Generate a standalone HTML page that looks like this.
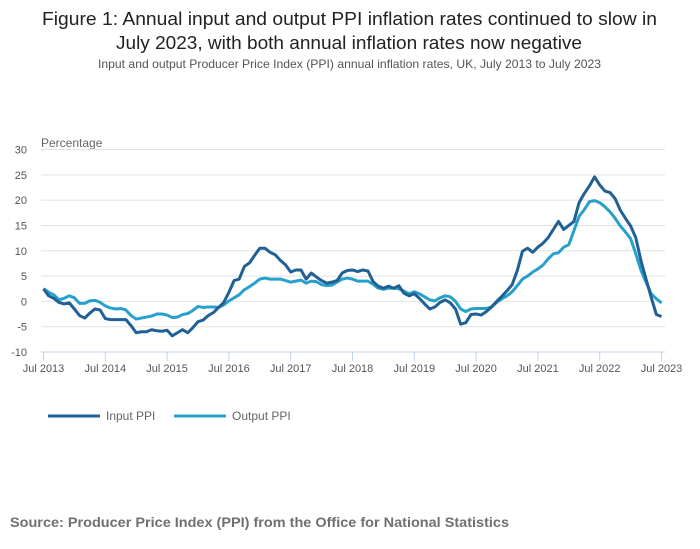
<!DOCTYPE html>
<html><head><meta charset="utf-8"><style>
html,body{margin:0;padding:0;background:#fff;}
svg{display:block;font-family:"Liberation Sans",sans-serif;}
</style></head><body>
<svg id="chart" width="700" height="549" viewBox="0 0 700 549" xmlns="http://www.w3.org/2000/svg">
<text x="349.5" y="25" text-anchor="middle" font-size="18" fill="#222" textLength="615" lengthAdjust="spacingAndGlyphs">Figure 1: Annual input and output PPI inflation rates continued to slow in</text>
<text x="349" y="49" text-anchor="middle" font-size="18" fill="#222" textLength="466" lengthAdjust="spacingAndGlyphs">July 2023, with both annual inflation rates now negative</text>
<text x="349.5" y="68" text-anchor="middle" font-size="12" fill="#555" textLength="503" lengthAdjust="spacingAndGlyphs">Input and output Producer Price Index (PPI) annual inflation rates, UK, July 2013 to July 2023</text>
<text x="41" y="147" font-size="12" fill="#666">Percentage</text>
<g id="grid"></g><g id="axes"></g><g id="series"></g>
<g>
<line x1="48" y1="416" x2="100" y2="416" stroke="#206095" stroke-width="3"/>
<text x="106" y="420" font-size="12" fill="#666">Input PPI</text>
<line x1="174" y1="416" x2="226" y2="416" stroke="#27a0cc" stroke-width="3"/>
<text x="232" y="420" font-size="12" fill="#666">Output PPI</text>
</g>
<text x="10" y="527" font-size="14" font-weight="bold" fill="#707070" textLength="499" lengthAdjust="spacingAndGlyphs">Source: Producer Price Index (PPI) from the Office for National Statistics</text>
</svg>
<script>
const inputPPI = [2.5,1.1,0.6,-0.2,-0.5,-0.3,-1.5,-2.8,-3.3,-2.3,-1.5,-1.7,
-3.4,-3.6,-3.6,-3.6,-3.6,-4.8,-6.2,-6.0,-6.0,-5.6,-5.8,-5.9,
-5.7,-6.8,-6.2,-5.6,-6.2,-5.2,-4.0,-3.7,-2.8,-2.2,-1.2,-0.2,
1.8,4.1,4.4,6.9,7.6,9.1,10.5,10.5,9.7,9.2,8.1,7.2,
5.8,6.2,6.2,4.4,5.6,4.8,4.1,3.6,3.8,4.1,5.6,6.1,
6.2,5.9,6.2,6.0,3.9,3.0,2.6,3.0,2.6,3.1,1.6,1.1,
1.5,0.6,-0.5,-1.5,-1.1,-0.2,0.3,-0.3,-1.5,-4.5,-4.2,-2.6,
-2.5,-2.7,-2.0,-1.1,0,1.0,2.1,3.3,6.1,9.9,10.5,9.7,
10.7,11.5,12.6,14.2,15.8,14.2,15.0,15.8,19.5,21.3,22.8,24.6,
23.0,21.8,21.5,20.3,18.0,16.4,14.9,12.6,8.1,4.4,0.8,-2.6,
-3.0];
const outputPPI = [2.5,1.8,1.3,0.3,0.6,1.1,0.7,-0.4,-0.4,0.1,0.2,-0.2,
-0.9,-1.3,-1.5,-1.4,-1.7,-2.8,-3.5,-3.3,-3.1,-2.9,-2.5,-2.5,
-2.7,-3.2,-3.1,-2.6,-2.4,-1.8,-1.0,-1.2,-1.1,-1.1,-1.2,-0.7,
0.1,0.7,1.3,2.3,2.9,3.6,4.4,4.6,4.4,4.4,4.4,4.1,
3.8,4.0,4.2,3.6,4.0,3.9,3.3,3.1,3.2,3.8,4.4,4.6,
4.4,4.0,4.0,4.0,3.4,2.6,2.4,2.6,2.6,2.5,2.0,1.5,
1.9,1.5,0.9,0.3,0.1,0.7,1.1,0.9,0,-1.5,-2.0,-1.5,
-1.4,-1.4,-1.4,-1.1,-0.2,0.5,1.1,1.9,3.1,4.4,5.0,5.8,
6.4,7.2,8.4,9.4,9.6,10.7,11.2,14.0,16.8,18.1,19.7,19.9,
19.5,18.7,17.7,16.4,14.9,13.7,12.4,9.4,6.2,3.8,1.5,0.5,
-0.3];
const yTicks = [30,25,20,15,10,5,0,-5,-10];
const xTickLabels = ["Jul 2013","Jul 2014","Jul 2015","Jul 2016","Jul 2017","Jul 2018","Jul 2019","Jul 2020","Jul 2021","Jul 2022","Jul 2023"];

const NS="http://www.w3.org/2000/svg";
const X0=43.5,X1=661.5,Y30=149.5,Ym10=352;
const n=inputPPI.length;
function xs(i){return X0+(X1-X0)*i/(n-1);}
function ys(v){return Ym10+(v+10)*(Y30-Ym10)/40;}
function mk(tag,attrs,parent){const e=document.createElementNS(NS,tag);for(const k in attrs)e.setAttribute(k,attrs[k]);parent.appendChild(e);return e;}
const grid=document.getElementById('grid'),axes=document.getElementById('axes'),ser=document.getElementById('series');
yTicks.forEach(v=>{
  if(v!==-10){const l=mk('line',{x1:41,x2:665,y1:ys(v),y2:ys(v),stroke:'#e2e2e2','stroke-width':1},grid);
  
  }
  const t=mk('text',{x:27,y:ys(v)+4,'text-anchor':'end','font-size':11,fill:'#555'},axes);
  t.textContent=v;
  
  
});
const ax=mk('line',{x1:41,x2:665,y1:Ym10,y2:Ym10,stroke:'#c5d3e6','stroke-width':1},axes);


xTickLabels.forEach((lab,k)=>{
  const x=xs(k*12);
  const tk=mk('line',{x1:x,x2:x,y1:Ym10,y2:Ym10+9,stroke:'#c5d3e6','stroke-width':1},axes);
  
  
  const t=mk('text',{x:x,y:372,'text-anchor':'middle','font-size':11,fill:'#555'},axes);
  t.textContent=lab;
  
  
});
function line(data,color,name){
  const d=data.map((v,i)=>(i?'L':'M')+xs(i).toFixed(2)+' '+ys(v).toFixed(2)).join(' ');
  const p=mk('path',{d:d,fill:'none',stroke:color,'stroke-width':3,'stroke-linejoin':'round'},ser);
  
  
}
line(outputPPI,'#27a0cc','output-ppi-line');
line(inputPPI,'#206095','input-ppi-line');
</script>
</body></html>
